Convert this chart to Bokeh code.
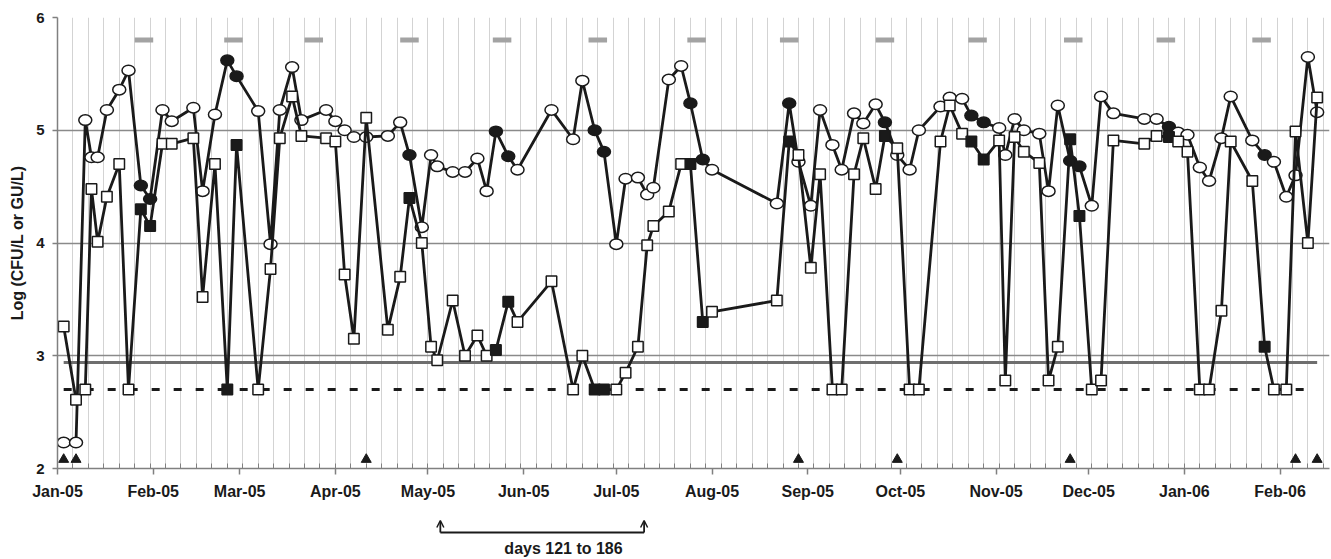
from bokeh.plotting import figure
from bokeh.layouts import column
from bokeh.models import Range1d, FixedTicker, Arrow, OpenHead, ColumnDataSource
from bokeh.core.properties import value
from bokeh.embed import file_html
from bokeh.resources import INLINE

# ---------------- data (days counted from 1 Jan 2005) ----------------
sample_day = [2, 6, 9, 11, 13, 16, 20, 23, 27, 30,
              34, 37, 44, 47, 51, 55, 58, 65, 69, 72,
              76, 79, 87, 90, 93, 96, 100, 107, 111, 114,
              118, 121, 123, 128, 132, 136, 139, 142, 146, 149,
              160, 167, 170, 174, 177, 181, 184, 188, 191, 193,
              198, 202, 205, 209, 212, 233, 237, 240, 244, 247,
              251, 254, 258, 261, 265, 268, 272, 276, 279, 286,
              289, 293, 296, 300, 305, 307, 310, 313, 318, 321,
              324, 328, 331, 335, 338, 342, 352, 356, 360, 363,
              366, 370, 373, 377, 380, 387, 391, 394, 398, 401,
              405, 408]

circle_log = [2.23, 2.23, 5.09, 4.76, 4.76, 5.18, 5.36, 5.53, 4.51, 4.39,
              5.18, 5.08, 5.20, 4.46, 5.14, 5.62, 5.48, 5.17, 3.99, 5.18,
              5.56, 5.09, 5.18, 5.08, 5.00, 4.94, 4.94, 4.95, 5.07, 4.78,
              4.14, 4.78, 4.68, 4.63, 4.63, 4.75, 4.46, 4.99, 4.77, 4.65,
              5.18, 4.92, 5.44, 5.00, 4.81, 3.99, 4.57, 4.58, 4.43, 4.49,
              5.45, 5.57, 5.24, 4.74, 4.65, 4.35, 5.24, 4.72, 4.33, 5.18,
              4.87, 4.65, 5.15, 5.06, 5.23, 5.07, 4.78, 4.65, 5.00, 5.21,
              5.29, 5.28, 5.13, 5.07, 5.02, 4.78, 5.10, 5.00, 4.97, 4.46,
              5.22, 4.73, 4.68, 4.33, 5.30, 5.15, 5.10, 5.10, 5.03, 4.98,
              4.96, 4.67, 4.55, 4.93, 5.30, 4.91, 4.78, 4.72, 4.41, 4.60,
              5.65, 5.16]

square_log = [3.26, 2.61, 2.70, 4.48, 4.01, 4.41, 4.70, 2.70, 4.30, 4.15,
              4.88, 4.88, 4.93, 3.52, 4.70, 2.70, 4.87, 2.70, 3.77, 4.93,
              5.30, 4.95, 4.93, 4.90, 3.72, 3.15, 5.11, 3.23, 3.70, 4.40,
              4.00, 3.08, 2.96, 3.49, 3.00, 3.18, 3.00, 3.05, 3.48, 3.30,
              3.66, 2.70, 3.00, 2.70, 2.70, 2.70, 2.85, 3.08, 3.98, 4.15,
              4.28, 4.70, 4.70, 3.30, 3.39, 3.49, 4.90, 4.78, 3.78, 4.61,
              2.70, 2.70, 4.61, 4.93, 4.48, 4.95, 4.84, 2.70, 2.70, 4.90,
              5.22, 4.97, 4.90, 4.74, 4.91, 2.78, 4.94, 4.81, 4.71, 2.78,
              3.08, 4.92, 4.24, 2.70, 2.78, 4.91, 4.88, 4.95, 4.94, 4.90,
              4.81, 2.70, 2.70, 3.40, 4.90, 4.55, 3.08, 2.70, 2.70, 4.99,
              4.00, 5.29]

positive_day = [27, 30, 55, 58, 114, 142, 146, 174, 177, 205, 209, 237,
                268, 296, 300, 328, 331, 360, 391]

event_day = [28, 57, 83, 114, 144, 175, 207, 237, 268, 298, 329, 359, 390]
event_level = 5.8

triangle_day = [2, 6, 100, 240, 272, 328, 401, 408]
triangle_level = 2.08

solid_limit = 2.94
dashed_limit = 2.70

month_day = [0, 31, 59, 90, 120, 151, 181, 212, 243, 273, 304, 334, 365, 396]
month_label = ["Jan-05", "Feb-05", "Mar-05", "Apr-05", "May-05", "Jun-05",
               "Jul-05", "Aug-05", "Sep-05", "Oct-05", "Nov-05", "Dec-05",
               "Jan-06", "Feb-06"]
minor_day = list(range(0, 413, 5))

y_title = "Log (CFU/L or GU/L)"
bracket_text = "days 121 to 186"
bracket_day = [124, 190]

# ---------------- main figure ----------------
INK = "#1a1a1a"
FONT = "Liberation Sans"
W = 1331
LEFT, RIGHT = 57, 2

xr = Range1d(0, 412)
p = figure(width=W, height=506, output_backend="svg", toolbar_location=None,
           x_range=xr, y_range=Range1d(2, 6),
           min_border_left=LEFT, min_border_right=RIGHT, min_border_top=17,
           min_border_bottom=38)
p.outline_line_color = None
p.background_fill_color = "white"
p.border_fill_color = "white"

p.xgrid.ticker = FixedTicker(ticks=minor_day)
p.xgrid.grid_line_color = "#d3d3d3"
p.xgrid.grid_line_width = 1
p.ygrid.ticker = FixedTicker(ticks=[3, 4, 5, 6])
p.ygrid.grid_line_color = "#8a8a8a"
p.ygrid.grid_line_width = 1.5

xa = p.xaxis[0]
xa.ticker = FixedTicker(ticks=month_day, minor_ticks=minor_day)
xa.major_label_overrides = {d: l for d, l in zip(month_day, month_label)}
xa.major_tick_in = 0
xa.major_tick_out = 6
xa.minor_tick_in = 5
xa.minor_tick_out = 0
xa.axis_line_color = "#808080"
xa.axis_line_width = 1.5
xa.major_tick_line_color = "#808080"
xa.major_tick_line_width = 1.5
xa.minor_tick_line_color = "#808080"
xa.major_label_text_font = FONT
xa.major_label_text_font_style = "bold"
xa.major_label_text_font_size = "16px"
xa.major_label_text_color = INK
xa.major_label_standoff = 8

ya = p.yaxis[0]
ya.ticker = FixedTicker(ticks=[2, 3, 4, 5, 6])
ya.major_tick_in = 0
ya.major_tick_out = 5
ya.minor_tick_line_color = None
ya.axis_line_color = "#808080"
ya.axis_line_width = 1.5
ya.major_tick_line_color = "#808080"
ya.major_tick_line_width = 1.5
ya.major_label_text_font = FONT
ya.major_label_text_font_style = "bold"
ya.major_label_text_font_size = "15px"
ya.major_label_text_color = INK
ya.major_label_standoff = 8
ya.axis_label = y_title
ya.axis_label_text_font = FONT
ya.axis_label_text_font_style = "bold"
ya.axis_label_text_font_size = "16px"
ya.axis_label_text_color = INK
ya.axis_label_standoff = 7

# limit lines
span_x = [sample_day[0], sample_day[-1]]
p.line(span_x, [solid_limit, solid_limit], line_color="#6e6e6e", line_width=3)
p.line(span_x, [dashed_limit, dashed_limit], line_color=INK, line_width=3,
       line_dash="8 14")

# event bars
p.rect(x=event_day, y=[event_level] * len(event_day), width=6, height=5,
       height_units="screen", fill_color="#a3a3a3", line_color=None)

# triangles
p.scatter(x=triangle_day, y=[triangle_level] * len(triangle_day),
          marker="triangle", size=10, fill_color=INK, line_color=INK)

fill = [INK if d in positive_day else "white" for d in sample_day]
src = ColumnDataSource(dict(day=sample_day, c=circle_log, s=square_log, fill=fill))

p.line("day", "c", source=src, line_color=INK, line_width=2.8)
p.ellipse("day", "c", width=13, height=10.5, width_units="screen",
          height_units="screen", source=src, fill_color="fill",
          line_color=INK, line_width=1.5)

p.line("day", "s", source=src, line_color=INK, line_width=2.8)
p.scatter("day", "s", source=src, marker="square", size=10.5,
          fill_color="fill", line_color=INK, line_width=1.5)

# ---------------- strip below with the bracket annotation ----------------
H2 = 53
q = figure(width=W, height=H2, output_backend="svg", toolbar_location=None,
           x_range=xr, y_range=Range1d(0, H2),
           min_border_left=LEFT, min_border_right=RIGHT, min_border_top=0,
           min_border_bottom=0)
q.axis.visible = False
q.grid.visible = False
q.outline_line_color = None
q.background_fill_color = "white"
q.border_fill_color = "white"

yb, yt = 27, 39
for d in bracket_day:
    q.add_layout(Arrow(x_start=d, y_start=yb, x_end=d, y_end=yt,
                       end=OpenHead(size=7, line_width=1.5, line_color=INK),
                       line_width=1.8, line_color=INK))
q.segment(x0=[bracket_day[0]], y0=[yb], x1=[bracket_day[1]], y1=[yb],
          line_width=2, line_color=INK)
q.text(x=[163.9], y=[11], text=[bracket_text], text_align="center",
       text_baseline="alphabetic", text_font=value(FONT),
       text_font_style="bold", text_font_size="16px", text_color=INK)

open("out.html", "w").write(file_html(column(p, q, spacing=0), INLINE))
